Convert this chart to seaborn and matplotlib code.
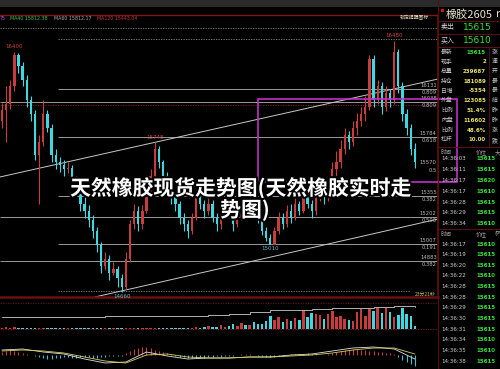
import numpy as np
import pandas as pd
import matplotlib
matplotlib.use("Agg")
import matplotlib.pyplot as plt
import matplotlib.patheffects as pe
from matplotlib.patches import Rectangle
import seaborn as sns

# ---------------- data ----------------
open0 = 15900
close = [15980, 16020, 16150, 16380, 16300, 16200, 16050, 15950, 15650, 15750,
         15950, 15850, 15650, 15600, 15580, 15550, 15560, 15480, 15420, 15300,
         15250, 15180, 15100, 15000, 14850, 14900, 14800, 14830, 14760, 14700,
         14900, 15150, 15250, 15150, 15250, 15380, 15500, 15700, 15600, 15500,
         15420, 15350, 15300, 15200, 15150, 15100, 15200, 15350, 15300, 15250,
         15300, 15200, 15150, 15250, 15300, 15250, 15150, 15200, 15300, 15250,
         15350, 15280, 15200, 15100, 15050, 15000, 15100, 15200, 15150, 15250,
         15200, 15300, 15250, 15350, 15300, 15250, 15350, 15400, 15350, 15450,
         15550, 15600, 15700, 15800, 15750, 15850, 15900, 15950, 16000, 16350,
         16050, 16150, 16000, 16100, 16050, 16400, 16150, 15950, 15850, 15700, 15600]
high = [16030, 16150, 16200, 16400, 16390, 16330, 16230, 16080, 15980, 15800,
        16050, 15980, 15880, 15700, 15640, 15620, 15600, 15580, 15500, 15450,
        15350, 15290, 15220, 15130, 15020, 14950, 14930, 14880, 14850, 14790,
        14950, 15180, 15300, 15280, 15290, 15420, 15550, 15748, 15720, 15620,
        15530, 15450, 15380, 15320, 15230, 15180, 15230, 15400, 15380, 15330,
        15350, 15330, 15230, 15290, 15340, 15320, 15280, 15240, 15340, 15320,
        15390, 15370, 15300, 15220, 15130, 15080, 15130, 15240, 15230, 15290,
        15300, 15340, 15320, 15400, 15380, 15330, 15390, 15450, 15420, 15490,
        15600, 15680, 15760, 15850, 15830, 15900, 15960, 16000, 16080, 16380,
        16380, 16200, 16180, 16150, 16130, 16480, 16420, 16180, 15990, 15880, 15740]
low = [15850, 15750, 15990, 16120, 16250, 16150, 16000, 15900, 15620, 15300,
       15720, 15820, 15600, 15550, 15530, 15500, 15520, 15430, 15380, 15250,
       15200, 15130, 15050, 14950, 14800, 14820, 14750, 14780, 14700, 14660,
       14680, 14880, 15120, 15100, 15120, 15230, 15350, 15480, 15560, 15450,
       15380, 15300, 15250, 15150, 15100, 15050, 15080, 15180, 15260, 15200,
       15220, 15170, 15100, 15120, 15220, 15200, 15100, 15130, 15180, 15200,
       15220, 15250, 15160, 15070, 15030, 15010, 15020, 15080, 15120, 15130,
       15160, 15180, 15220, 15230, 15270, 15200, 15220, 15320, 15300, 15320,
       15420, 15500, 15560, 15660, 15700, 15720, 15800, 15860, 15900, 15980,
       16000, 16020, 15950, 15970, 16000, 16020, 16100, 15900, 15800, 15650, 15560]
volume = [150, 200, 120, 180, 100, 150, 120, 100, 130, 110,
          100, 120, 90, 110, 100, 130, 90, 100, 120, 80,
          100, 90, 120, 80, 100, 150, 110, 90, 130, 100,
          120, 100, 150, 110, 90, 130, 100, 140, 120, 100,
          110, 130, 100, 150, 120, 100, 140, 200, 150, 170,
          300, 180, 250, 400, 200, 350, 500, 300, 600, 450,
          400, 700, 500, 550, 800, 1300, 900, 1200, 700, 1000,
          800, 1100, 900, 1900, 1200, 1600, 1500, 1400, 1000, 1500,
          1800, 1200, 1300, 1000, 900, 800, 1700, 2000, 1300, 2000,
          1800, 2200, 1600, 2100, 1700, 1200, 1400, 2100, 1500, 1300, 300]
vol_ma_x = [0, 5, 10, 15, 20, 25, 30, 35, 40, 45, 50, 55, 60, 65, 70, 75, 80, 85, 90, 95, 100]
vol_ma = [1200, 1200, 1200, 1220, 1240, 1260, 1280, 1300, 1320, 1350, 1400,
          1500, 1700, 1900, 1950, 2000, 2080, 2150, 2200, 2300, 2200]
macd_hist = [3, 4, 5, 4, 3, 2, 1, 0, -1, -2,
             -3, -4, -4, -3, -3, -2, -2, -3, -3, -2,
             -2, -2, -3, -3, -2, -2, -1, -1, -1, -1,
             2, 4, 6, 7, 8, 8, 7, 5, 4, 3,
             2, 1, -1, -2, -2, -3, -3, -3, -2, -3,
             -2, -2, -1, -2, -1, -1, -1, 0, 1, 1,
             1, 0, -1, -1, -2, -2, -2, -1, -1, 0,
             1, 1, 1, 1, 2, 1, 1, 0, 0, 1,
             2, 3, 4, 5, 5, 6, 6, 5, 5, 4,
             4, 3, 3, 2, 2, 1, -2, -5, -7, -9, -11]
macd_x = [0, 5, 10, 15, 20, 25, 30, 35, 40, 45, 50, 55, 60, 65, 70, 75, 80, 85, 90, 95, 100]
dif = [5, 6, 3, 1, -4, -8, -7, 3, -1, -4, -3, -3, -2, -2, 0, 1, 4, 7, 8, 6, -4]
dea = [4, 5, 4, 2, -2, -6, -8, 0, 1, -2, -3, -3, -2, -2, -1, 0, 2, 5, 7, 7, 1]

fib_prices = [16131, 16038, 15784, 15355, 15202, 15007, 14883]
fib_ratios = ["0.809", "0.809", "0.618", "0.382", "0.500", "0.191", "0.382"]
mid_label = ("15570", "0.5")

legend_items = [("75", "#c040c0"), ("MA40 15812.38", "#40c040"),
                ("MA60 15812.17", "#a8a8a8"), ("MA120 15443.04", "#c83030")]

quote_rows = [("最新", "15615"), ("现手", "2"), ("总量", "239687"), ("持仓", "181089"),
              ("日增", "-5354"), ("外盘", "123085"), ("比例", "51.4%"), ("内盘", "116602"),
              ("比例", "48.6%"), ("杠杆", "10.00")]
quote_right = ["涨", "速", "开", "最", "最", "结", "昨", "昨", "涨", "跌"]
ticks1_time = ["14:36:03", "14:36:11", "14:36:17", "14:36:17", "14:36:28", "14:36:29", "14:36:34"]
ticks1_price = ["15615", "15615", "15620", "15610", "15615", "15615", "15610"]
ticks2_time = ["14:36:17", "14:36:19", "14:36:20", "14:36:22", "14:36:28", "14:36:28",
               "14:36:29", "14:36:30", "14:36:31", "14:36:34", "14:36:35", "14:36:38"]
ticks2_price = ["15610", "15615", "15615", "15610", "15615", "15615",
                "15615", "15615", "15615", "15610", "15610", "15615"]

title_line1 = "天然橡胶现货走势图(天然橡胶实时走"
title_line2 = "势图)"

# ---------------- style ----------------
sns.set_theme(style="dark", rc={"axes.facecolor": "black", "figure.facecolor": "black",
                                "savefig.facecolor": "black"})
plt.rcParams['font.family'] = ['Noto Sans CJK SC', 'DejaVu Sans']

RED = "#c83c3c"
CYAN = "#3fd8e0"
GRID = "#9a9a9a"
DRED = "#5a1010"

W, H = 500, 369
fig = plt.figure(figsize=(5, 3.69), dpi=100)


def px_axes(x0, y0, x1, y1):
    ax = fig.add_axes([x0 / W, 1 - y1 / H, (x1 - x0) / W, (y1 - y0) / H])
    ax.set_facecolor("black")
    ax.set_xticks([])
    ax.set_yticks([])
    for s in ax.spines.values():
        s.set_visible(False)
    return ax


XL = (-0.48, 105.6)
df = pd.DataFrame({"i": np.arange(len(close)), "close": close, "high": high, "low": low,
                   "volume": volume, "hist": macd_hist})
df["open"] = [open0] + close[:-1]
df["up"] = df["close"] >= df["open"]
df["col"] = np.where(df["up"], RED, CYAN)

# ---------------- price panel ----------------
ax_p = px_axes(0, 15, 438, 297)
ax_p.set_xlim(*XL)
ax_p.set_ylim(14624, 16668)
ax_p.spines["top"].set_visible(True)
ax_p.spines["top"].set_color("#7a1818")
ax_p.spines["top"].set_linewidth(1.0)
ax_p.spines["bottom"].set_visible(True)
ax_p.spines["bottom"].set_color("#6a1010")
ax_p.spines["bottom"].set_linewidth(1.8)
ax_p.spines["right"].set_visible(True)
ax_p.spines["right"].set_color(DRED)

# dotted reference lines
ax_p.axhline(16574, color="#8a8a8a", lw=0.6, ls=(0, (1.5, 1.5)))
ax_p.hlines(16494, 13.6, XL[1], color="#8a8a8a", lw=0.6, ls=(0, (1.5, 1.5)))
ax_p.hlines(14667, 13.6, 98.8, color="#8a8a8a", lw=0.6, ls=(0, (1.5, 1.5)))
ax_p.axhline(16016, color="#8a2020", lw=0.6, ls=(0, (1.5, 1.5)))

# fib lines
starts = [13.6, XL[0], 13.6, 13.6, XL[0], 13.6, XL[0]]
for p, r, s in zip(fib_prices, fib_ratios, starts):
    ax_p.hlines(p, s, XL[1], color=GRID, lw=0.7)
    ax_p.text(105.3, p + 8, str(p), ha="right", va="bottom", fontsize=3.8, color="#b8b8b8",
              family="DejaVu Sans")
    ax_p.text(105.3, p - 8, r, ha="right", va="top", fontsize=3.8, color="#b8b8b8",
              family="DejaVu Sans")
ax_p.text(105.3, 15578, mid_label[0], ha="right", va="bottom", fontsize=3.8, color="#b8b8b8",
          family="DejaVu Sans")
ax_p.text(105.3, 15562, mid_label[1], ha="right", va="top", fontsize=3.8, color="#b8b8b8",
          family="DejaVu Sans")

# trend lines
ax_p.plot([22.5, XL[1]], [14624, 15189], color="#c8c8c8", lw=0.7)
ax_p.plot([XL[0], XL[1]], [15494, 16204], color="#c8c8c8", lw=0.7)

# candles
ax_p.vlines(df["i"], df["low"], df["high"], colors=df["col"], lw=0.8, zorder=3)
body_lo = np.minimum(df["open"], df["close"])
body_h = np.maximum(np.abs(df["close"] - df["open"]), 6)
ax_p.bar(df["i"], body_h, bottom=body_lo, width=0.55, color=df["col"], linewidth=0, zorder=3)

# high/low labels
ax_p.text(3, 16418, "16400", ha="center", va="bottom", fontsize=4, color="#d04040", family="DejaVu Sans")
ax_p.text(95, 16498, "16480", ha="center", va="bottom", fontsize=4, color="#d04040", family="DejaVu Sans")
ax_p.text(37, 15762, "15748", ha="center", va="bottom", fontsize=4, color="#d04040", family="DejaVu Sans")
ax_p.text(29, 14648, "14660", ha="center", va="top", fontsize=4, color="#60b8d0", family="DejaVu Sans")
ax_p.text(65, 14995, "15010", ha="center", va="top", fontsize=4, color="#60b8d0", family="DejaVu Sans")

# magenta box
ax_p.add_patch(Rectangle((62.0, 15457), 48.2, 602, fill=False, ec="#c030c8", lw=1.2,
                         clip_on=False, zorder=6))

# ---------------- volume panel ----------------
ax_v = px_axes(0, 299, 438, 330)
ax_v.set_xlim(*XL)
ax_v.set_ylim(-100, 3000)
ax_v.axhline(2600, color="#6a1818", lw=0.6, ls=(0, (1.5, 1.5)))
ax_v.axhline(0, color="#8a2020", lw=0.6, ls=(0, (1.5, 1.5)))
ax_v.bar(df["i"], df["volume"], width=0.6, color=df["col"], linewidth=0)
sns.lineplot(x=vol_ma_x, y=vol_ma, ax=ax_v, color="#b0b0b0", lw=0.7, drawstyle="steps-post")
ax_v.set_xlabel("")
ax_v.set_ylabel("")

# ---------------- MACD panel ----------------
ax_m = px_axes(0, 333, 438, 369)
ax_m.set_xlim(*XL)
ax_m.set_ylim(-14, 22)
hcol = np.where(np.array(macd_hist) >= 0, "#c04040", "#40c0d0")
ax_m.vlines(df["i"], 0, df["hist"], colors=hcol, lw=0.8)
sns.lineplot(x=macd_x, y=dif, ax=ax_m, color="#e0e0e0", lw=0.6)
sns.lineplot(x=macd_x, y=dea, ax=ax_m, color="#d8d060", lw=0.6)
ax_m.set_xlabel("")
ax_m.set_ylabel("")

# ---------------- overlay (chrome + texts) ----------------
ax_o = fig.add_axes([0, 0, 1, 1])
ax_o.set_xlim(0, W)
ax_o.set_ylim(H, 0)
ax_o.axis("off")
ax_o.patch.set_alpha(0)

ax_o.add_patch(Rectangle((0, 0), W, 7, color="#2a2a2a", lw=0))

# legend
lx = [0, 10, 54, 97]
for (t, c), x in zip(legend_items, lx):
    ax_o.text(x, 18, t, fontsize=3.4, color=c, va="center", ha="left", family="DejaVu Sans")
ax_o.text(414, 18, "锁定提醒图标", fontsize=3.5, color="#e0d8b8", ha="center", va="center")
ax_o.text(436, 294, "23分21秒", fontsize=3.5, color="#d0c060", ha="right", va="center")

# right panel borders
ax_o.plot([438, 438], [0, H], color=DRED, lw=0.8)
for y in [21, 34, 47, 147, 229]:
    ax_o.plot([438, W], [y, y], color=DRED, lw=0.8)
ax_o.plot([489, 489], [47, 147], color=DRED, lw=0.6)

ax_o.add_patch(Rectangle((440.5, 8.5), 3.5, 3.5, color="#c02020", lw=0))
ax_o.text(446, 14, "橡胶2605", fontsize=8, color="#e8e0c8", va="center", ha="left")
ax_o.text(496, 14, "r", fontsize=8, color="#e8e0c8", va="center", ha="left")
ax_o.text(441, 27.5, "卖出", fontsize=5, color="#d0d0d0", va="center", ha="left")
ax_o.text(463, 27.5, "15615", fontsize=6.5, color="#30e030", va="center", ha="left", family="DejaVu Sans")
ax_o.text(441, 40.5, "买入", fontsize=5, color="#d0d0d0", va="center", ha="left")
ax_o.text(463, 40.5, "15610", fontsize=6.5, color="#30e030", va="center", ha="left", family="DejaVu Sans")

for k, ((lab, val), rc) in enumerate(zip(quote_rows, quote_right)):
    y = 52 + k * 9.75
    ax_o.text(441, y, lab, fontsize=4.2, color="#c8c8c8", va="center", ha="left")
    vc = "#30e030" if k == 0 else "#e8e060"
    ax_o.text(486, y, val, fontsize=4, color=vc, va="center", ha="right",
              family="DejaVu Sans", weight="bold")
    ax_o.text(492, y, rc, fontsize=4.2, color="#c8c8c8", va="center", ha="left")

ax_o.text(441, 152, "时间", fontsize=4, color="#a0a0a0", va="center", ha="left")
ax_o.text(476, 152, "价位", fontsize=4, color="#a0a0a0", va="center", ha="left")
ax_o.text(495, 152, "大", fontsize=4, color="#a0a0a0", va="center", ha="left")
for k, (t, p) in enumerate(zip(ticks1_time, ticks1_price)):
    y = 159 + k * 10.8
    ax_o.text(441, y, t, fontsize=4, color="#d0d0d0", va="center", ha="left", family="DejaVu Sans")
    ax_o.text(476, y, p, fontsize=4, color="#30e030", va="center", ha="left",
              family="DejaVu Sans", weight="bold")

ax_o.text(441, 234, "时间", fontsize=4, color="#a0a0a0", va="center", ha="left")
ax_o.text(476, 234, "价位", fontsize=4, color="#a0a0a0", va="center", ha="left")
ax_o.text(495, 234, "额", fontsize=4, color="#a0a0a0", va="center", ha="left")
for k, (t, p) in enumerate(zip(ticks2_time, ticks2_price)):
    y = 244 + k * 10.65
    ax_o.text(441, y, t, fontsize=4, color="#d0d0d0", va="center", ha="left", family="DejaVu Sans")
    ax_o.text(476, y, p, fontsize=4, color="#30e030", va="center", ha="left",
              family="DejaVu Sans", weight="bold")

# big overlay title
stroke = [pe.withStroke(linewidth=3, foreground="black")]
ax_o.text(241, 188, title_line1, fontsize=15, weight="bold", color="white",
          ha="center", va="center", path_effects=stroke)
ax_o.text(245, 210, title_line2, fontsize=15, weight="bold", color="white",
          ha="center", va="center", path_effects=stroke)

fig.savefig("out.png", dpi=100, facecolor="black")
